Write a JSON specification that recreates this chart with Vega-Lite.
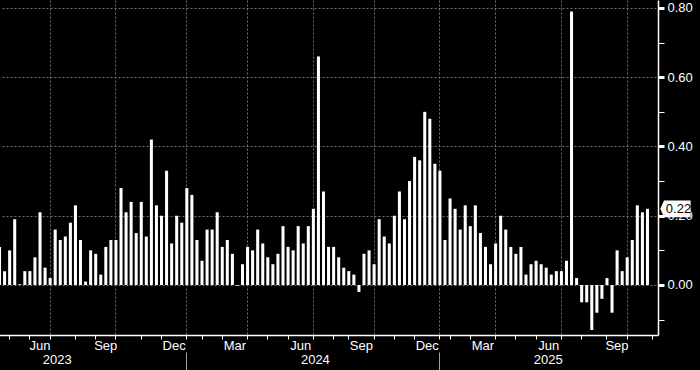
{
  "$schema": "https://vega.github.io/schema/vega-lite/v6.json",
  "width": 658,
  "height": 335,
  "autosize": {"type": "none"},
  "padding": {"left": 0, "top": 0, "right": 42, "bottom": 35},
  "background": "#000000",
  "config": {
    "view": {"stroke": null},
    "axis": {"labelFont": "Liberation Sans", "labelFontSize": 13, "labelColor": "#ffffff", "title": null}
  },
  "datasets": {
    "weekly": [
      {"date": "2023-04-23", "value": 0.11},
      {"date": "2023-04-30", "value": 0.04},
      {"date": "2023-05-07", "value": 0.10},
      {"date": "2023-05-14", "value": 0.19},
      {"date": "2023-05-21", "value": 0.002},
      {"date": "2023-05-28", "value": 0.04},
      {"date": "2023-06-04", "value": 0.04},
      {"date": "2023-06-11", "value": 0.08},
      {"date": "2023-06-18", "value": 0.21},
      {"date": "2023-06-25", "value": 0.05},
      {"date": "2023-07-02", "value": 0.02},
      {"date": "2023-07-09", "value": 0.16},
      {"date": "2023-07-16", "value": 0.13},
      {"date": "2023-07-23", "value": 0.14},
      {"date": "2023-07-30", "value": 0.18},
      {"date": "2023-08-06", "value": 0.23},
      {"date": "2023-08-13", "value": 0.13},
      {"date": "2023-08-20", "value": 0.01},
      {"date": "2023-08-27", "value": 0.10},
      {"date": "2023-09-03", "value": 0.09},
      {"date": "2023-09-10", "value": 0.03},
      {"date": "2023-09-17", "value": 0.11},
      {"date": "2023-09-24", "value": 0.13},
      {"date": "2023-10-01", "value": 0.13},
      {"date": "2023-10-08", "value": 0.28},
      {"date": "2023-10-15", "value": 0.21},
      {"date": "2023-10-22", "value": 0.24},
      {"date": "2023-10-29", "value": 0.15},
      {"date": "2023-11-05", "value": 0.24},
      {"date": "2023-11-12", "value": 0.14},
      {"date": "2023-11-19", "value": 0.42},
      {"date": "2023-11-26", "value": 0.23},
      {"date": "2023-12-03", "value": 0.20},
      {"date": "2023-12-10", "value": 0.33},
      {"date": "2023-12-17", "value": 0.12},
      {"date": "2023-12-24", "value": 0.20},
      {"date": "2023-12-31", "value": 0.18},
      {"date": "2024-01-14", "value": 0.28},
      {"date": "2024-01-21", "value": 0.26},
      {"date": "2024-01-28", "value": 0.13},
      {"date": "2024-02-04", "value": 0.07},
      {"date": "2024-02-11", "value": 0.16},
      {"date": "2024-02-18", "value": 0.16},
      {"date": "2024-02-25", "value": 0.21},
      {"date": "2024-03-03", "value": 0.11},
      {"date": "2024-03-10", "value": 0.13},
      {"date": "2024-03-17", "value": 0.09},
      {"date": "2024-03-24", "value": -0.002},
      {"date": "2024-03-31", "value": 0.06},
      {"date": "2024-04-07", "value": 0.11},
      {"date": "2024-04-14", "value": 0.10},
      {"date": "2024-04-21", "value": 0.16},
      {"date": "2024-04-28", "value": 0.12},
      {"date": "2024-05-05", "value": 0.08},
      {"date": "2024-05-12", "value": 0.06},
      {"date": "2024-05-19", "value": 0.09},
      {"date": "2024-05-26", "value": 0.17},
      {"date": "2024-06-02", "value": 0.11},
      {"date": "2024-06-09", "value": 0.10},
      {"date": "2024-06-16", "value": 0.17},
      {"date": "2024-06-23", "value": 0.12},
      {"date": "2024-06-30", "value": 0.17},
      {"date": "2024-07-07", "value": 0.22},
      {"date": "2024-07-14", "value": 0.66},
      {"date": "2024-07-21", "value": 0.27},
      {"date": "2024-07-28", "value": 0.11},
      {"date": "2024-08-11", "value": 0.11},
      {"date": "2024-08-18", "value": 0.08},
      {"date": "2024-08-25", "value": 0.05},
      {"date": "2024-09-01", "value": 0.04},
      {"date": "2024-09-08", "value": 0.03},
      {"date": "2024-09-15", "value": -0.02},
      {"date": "2024-09-22", "value": 0.09},
      {"date": "2024-09-29", "value": 0.10},
      {"date": "2024-10-06", "value": 0.06},
      {"date": "2024-10-13", "value": 0.19},
      {"date": "2024-10-20", "value": 0.14},
      {"date": "2024-10-27", "value": 0.12},
      {"date": "2024-11-03", "value": 0.20},
      {"date": "2024-11-10", "value": 0.27},
      {"date": "2024-11-17", "value": 0.19},
      {"date": "2024-11-24", "value": 0.30},
      {"date": "2024-12-01", "value": 0.37},
      {"date": "2024-12-08", "value": 0.36},
      {"date": "2024-12-15", "value": 0.50},
      {"date": "2024-12-22", "value": 0.48},
      {"date": "2024-12-29", "value": 0.35},
      {"date": "2025-01-19", "value": 0.33},
      {"date": "2025-01-26", "value": 0.13},
      {"date": "2025-02-02", "value": 0.25},
      {"date": "2025-02-09", "value": 0.22},
      {"date": "2025-02-16", "value": 0.16},
      {"date": "2025-02-23", "value": 0.23},
      {"date": "2025-03-02", "value": 0.17},
      {"date": "2025-03-09", "value": 0.23},
      {"date": "2025-03-16", "value": 0.15},
      {"date": "2025-03-23", "value": 0.11},
      {"date": "2025-03-30", "value": 0.06},
      {"date": "2025-04-06", "value": 0.12},
      {"date": "2025-04-13", "value": 0.20},
      {"date": "2025-04-20", "value": 0.16},
      {"date": "2025-04-27", "value": 0.11},
      {"date": "2025-05-04", "value": 0.09},
      {"date": "2025-05-11", "value": 0.11},
      {"date": "2025-05-18", "value": 0.03},
      {"date": "2025-05-25", "value": 0.06},
      {"date": "2025-06-01", "value": 0.07},
      {"date": "2025-06-08", "value": 0.06},
      {"date": "2025-06-15", "value": 0.05},
      {"date": "2025-06-22", "value": 0.03},
      {"date": "2025-06-29", "value": 0.04},
      {"date": "2025-07-06", "value": 0.04},
      {"date": "2025-07-13", "value": 0.07},
      {"date": "2025-07-20", "value": 0.79},
      {"date": "2025-07-27", "value": 0.02},
      {"date": "2025-08-03", "value": -0.05},
      {"date": "2025-08-10", "value": -0.05},
      {"date": "2025-08-17", "value": -0.13},
      {"date": "2025-08-24", "value": -0.08},
      {"date": "2025-08-31", "value": -0.04},
      {"date": "2025-09-07", "value": 0.02},
      {"date": "2025-09-14", "value": -0.08},
      {"date": "2025-09-21", "value": 0.10},
      {"date": "2025-09-28", "value": 0.04},
      {"date": "2025-10-05", "value": 0.08},
      {"date": "2025-10-12", "value": 0.13},
      {"date": "2025-10-19", "value": 0.23},
      {"date": "2025-10-26", "value": 0.21},
      {"date": "2025-10-31", "value": 0.22}
    ]
  },
  "data": {"name": "weekly"},
  "layer": [
    {
      "mark": {"type": "bar", "color": "#ffffff"},
      "encoding": {
        "x": {
          "field": "date",
          "type": "ordinal",
          "scale": {
            "domain": {"unionWith": ["2025-11-02"]},
            "range": [-2, 658],
            "paddingInner": 0.4,
            "paddingOuter": 0.39,
            "align": 0
          },
          "axis": {
            "orient": "bottom",
            "values": ["2023-05-07", "2023-06-04", "2023-07-02", "2023-08-06", "2023-09-03", "2023-10-01", "2023-11-05", "2023-12-03", "2024-01-14", "2024-02-04", "2024-03-03", "2024-04-07", "2024-05-05", "2024-06-02", "2024-07-07", "2024-08-11", "2024-09-01", "2024-10-06", "2024-11-03", "2024-12-01", "2025-01-19", "2025-02-02", "2025-03-02", "2025-04-06", "2025-05-04", "2025-06-01", "2025-07-06", "2025-08-03", "2025-09-07", "2025-10-05", "2025-11-02"],
            "labelExpr": "utcmonth(toDate(datum.value)) % 3 == 2 ? utcFormat(toDate(datum.value), '%b') : ''",
            "labelOffset": {"condition": {"test": "indexof(['2023-06-04','2023-09-03','2025-09-07'], datum.value) >= 0", "value": 10}, "value": 12.6},
            "labelAngle": 0,
            "labelAlign": "center",
            "labelPadding": 0,
            "grid": true,
            "gridColor": "#707070",
            "gridDash": [2, 2],
            "gridOpacity": {"condition": {"test": "utcmonth(toDate(datum.value)) % 3 == 0", "value": 1}, "value": 0},
            "tickSize": 4,
            "tickColor": "#ffffff",
            "domainColor": "#ffffff",
            "domainWidth": 1.5
          }
        },
        "y": {
          "field": "value",
          "type": "quantitative",
          "scale": {"domain": [-0.1444, 0.823], "nice": false, "zero": false},
          "axis": {
            "orient": "right",
            "values": [-0.1, 0, 0.1, 0.2, 0.3, 0.4, 0.5, 0.6, 0.7, 0.8],
            "labelExpr": "round(datum.value * 10) % 2 == 0 ? format(datum.value, '.2f') : ''",
            "labelBaseline": "middle",
            "labelPadding": 3,
            "grid": true,
            "gridColor": "#707070",
            "gridDash": [2, 2],
            "gridOpacity": {"condition": {"test": "round(datum.value * 10) % 2 == 0", "value": 1}, "value": 0},
            "tickSize": 6,
            "tickWidth": {"condition": {"test": "round(datum.value * 10) % 2 == 0", "value": 3}, "value": 1},
            "tickColor": "#ffffff",
            "domainColor": "#ffffff",
            "domainWidth": 1.5
          }
        }
      }
    },
    {
      "transform": [{"filter": "datum.date == '2025-10-31'"}],
      "mark": {"type": "point", "shape": "M -1 0 L -0.756 -0.551 L 1 -0.551 L 1 0.551 L -0.756 0.551 Z", "size": 918, "filled": true, "color": "#ffffff", "opacity": 1, "xOffset": 28},
      "encoding": {
        "x": {
          "field": "date",
          "type": "ordinal",
          "axis": {
            "orient": "bottom",
            "offset": 17,
            "values": ["2023-07-09", "2024-01-14", "2024-07-07", "2025-01-19", "2025-06-15"],
            "labelExpr": "indexof(['2024-01-14','2025-01-19'], datum.value) >= 0 ? '' : utcFormat(toDate(datum.value), '%Y')",
            "labelAngle": 0,
            "labelAlign": "center",
            "labelOffset": 2,
            "labelPadding": -16.5,
            "domain": false,
            "grid": false,
            "tickSize": 18,
            "tickColor": "#a0a0a0",
            "tickOpacity": {"condition": {"test": "indexof(['2024-01-14','2025-01-19'], datum.value) >= 0", "value": 1}, "value": 0}
          }
        },
        "y": {"field": "value", "type": "quantitative", "axis": null}
      }
    },
    {
      "transform": [{"filter": "datum.date == '2025-10-31'"}],
      "mark": {"type": "text", "color": "#000000", "font": "Liberation Sans", "fontSize": 13, "align": "center", "baseline": "middle", "xOffset": 31},
      "encoding": {
        "x": {"field": "date", "type": "ordinal", "axis": null},
        "y": {"field": "value", "type": "quantitative", "axis": null},
        "text": {"field": "value", "type": "quantitative", "format": ".2f"}
      }
    }
  ],
  "resolve": {"axis": {"x": "independent", "y": "independent"}}
}
